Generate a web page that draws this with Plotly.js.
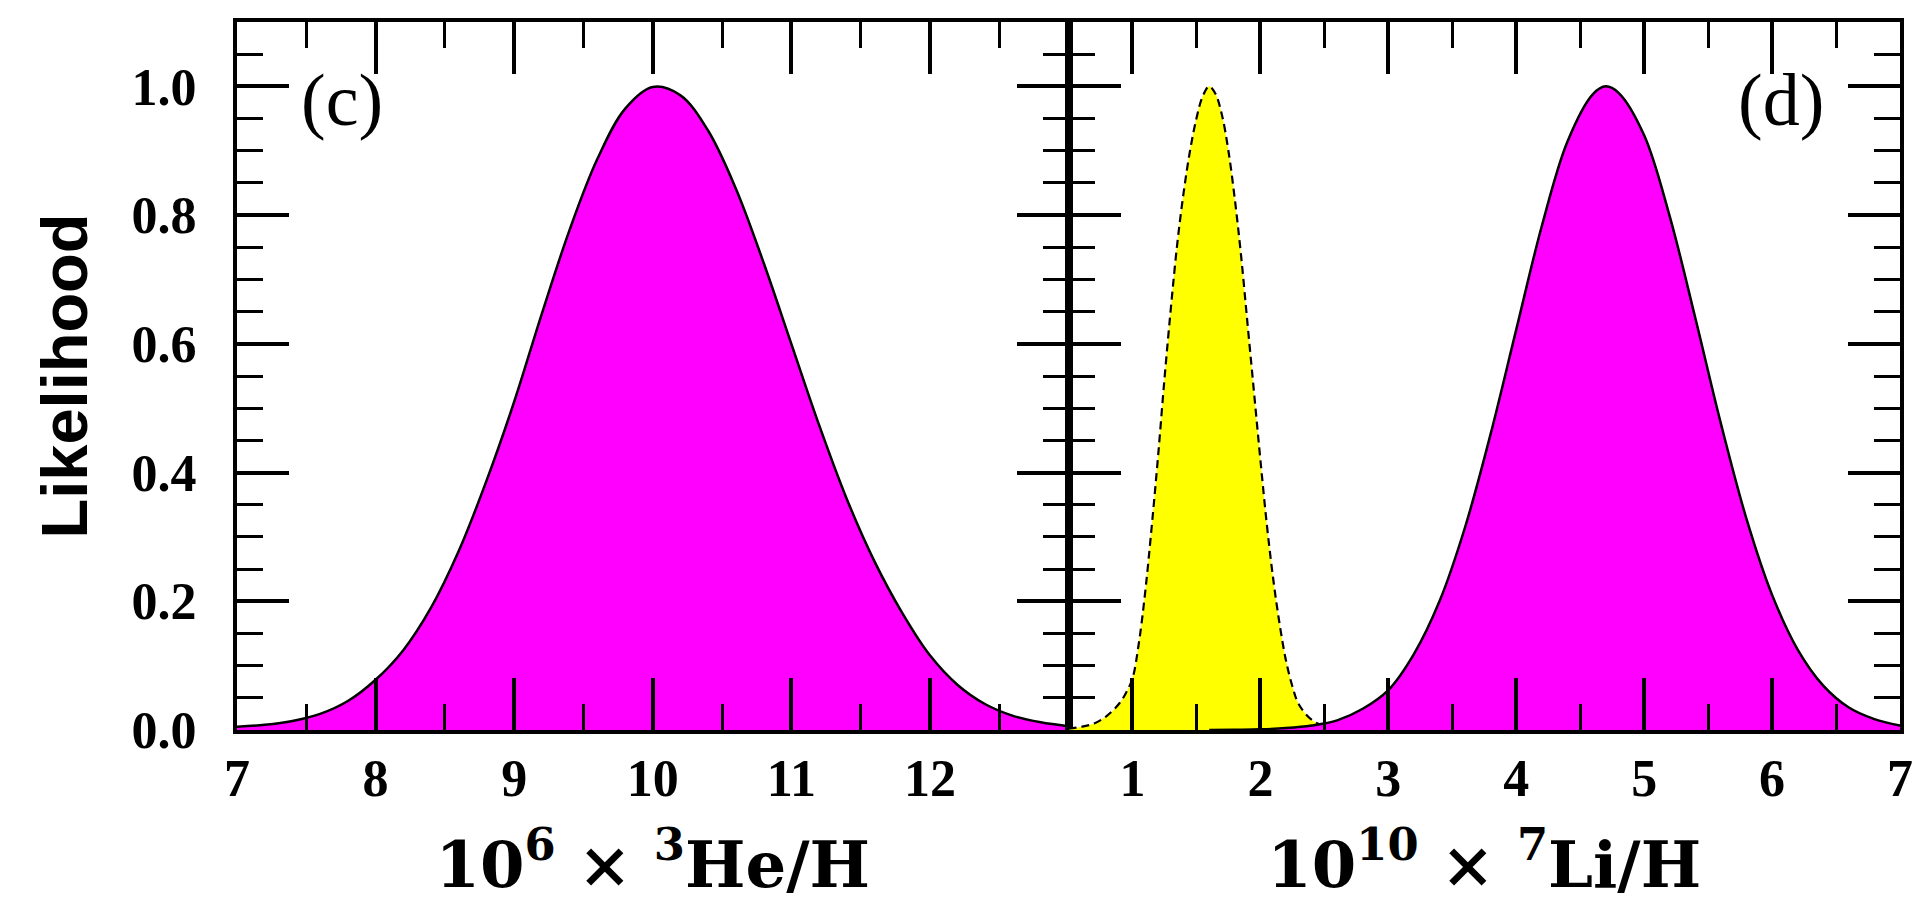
<!DOCTYPE html>
<html>
<head>
<meta charset="utf-8">
<script src="https://cdn.plot.ly/plotly-3.0.1.min.js"></script>
<style>
html, body { margin: 0; padding: 0; background: #ffffff; }
#chart { width: 1926px; height: 902px; }
</style>
</head>
<body>
<div id="chart"></div>
<script>
// ---- Panel (c): 10^6 x 3He/H likelihood ----
const heX = [7.0, 7.2, 7.4, 7.6, 7.8, 8.0, 8.2, 8.4, 8.6, 8.8, 9.0, 9.2, 9.4, 9.6, 9.8, 10.0,
             10.2, 10.4, 10.6, 10.8, 11.0, 11.2, 11.4, 11.6, 11.8, 12.0, 12.2, 12.4, 12.6, 12.8, 13.0];
const heLike = [0.005, 0.008, 0.014, 0.025, 0.045, 0.078, 0.124, 0.190, 0.278, 0.387, 0.510, 0.647, 0.777, 0.887, 0.965, 0.999,
                0.986, 0.931, 0.841, 0.726, 0.600, 0.474, 0.359, 0.262, 0.182, 0.116, 0.070, 0.040, 0.022, 0.012, 0.006];

// ---- Panel (d): 10^10 x 7Li/H, observed (yellow, dashed) ----
const liObsX = [0.5, 0.6, 0.7, 0.8, 0.9, 0.95, 1.0, 1.05, 1.1, 1.15, 1.2, 1.25, 1.3, 1.35, 1.4, 1.45, 1.5, 1.55, 1.6,
                1.65, 1.7, 1.75, 1.8, 1.85, 1.9, 1.95, 2.0, 2.05, 2.1, 2.15, 2.2, 2.25, 2.3, 2.4, 2.5, 2.6, 2.7];
const liObsLike = [0.002, 0.005, 0.010, 0.022, 0.042, 0.058, 0.080, 0.135, 0.215, 0.315, 0.425, 0.545, 0.655, 0.755, 0.835, 0.900, 0.950, 0.985, 1.000,
                   0.988, 0.955, 0.900, 0.825, 0.735, 0.630, 0.525, 0.420, 0.320, 0.235, 0.165, 0.108, 0.068, 0.040, 0.016, 0.006, 0.002, 0.000];

// ---- Panel (d): 10^10 x 7Li/H, predicted (magenta) ----
const liPredX = [1.6, 1.8, 2.0, 2.2, 2.4, 2.6, 2.8, 3.0, 3.2, 3.4, 3.6, 3.8, 4.0, 4.2, 4.4, 4.6, 4.7, 4.8,
                 5.0, 5.2, 5.4, 5.6, 5.8, 6.0, 6.2, 6.4, 6.6, 6.8, 7.0];
const liPredLike = [0.000, 0.0004, 0.001, 0.003, 0.007, 0.015, 0.033, 0.062, 0.118, 0.200, 0.315, 0.460, 0.622, 0.783, 0.914, 0.988, 1.000, 0.990,
                    0.924, 0.798, 0.640, 0.476, 0.328, 0.210, 0.125, 0.069, 0.035, 0.017, 0.007];

// ---- Tick labels ----
const heTickVals = [7, 8, 9, 10, 11, 12];
const heTickText = ['7', '8', '9', '10', '11', '12'];
const liTickVals = [1, 2, 3, 4, 5, 6, 7];
const liTickText = ['1', '2', '3', '4', '5', '6', '7'];
const yTickVals = [0, 0.2, 0.4, 0.6, 0.8, 1.0];
const yTickText = ['0.0', '0.2', '0.4', '0.6', '0.8', '1.0'];

const MAGENTA = '#ff00ff';
const YELLOW = '#ffff00';
const SERIF = '"Liberation Serif", "Times New Roman", serif';
const TITLE_SERIF = '"DejaVu Serif", "Liberation Serif", serif';
const SANS = '"Liberation Sans", Arial, sans-serif';

const traces = [
  {
    x: heX, y: heLike, xaxis: 'x', yaxis: 'y',
    type: 'scatter', mode: 'lines', fill: 'tozeroy', fillcolor: MAGENTA,
    line: {color: '#000000', width: 2.5, shape: 'spline', smoothing: 1},
    hoverinfo: 'skip', showlegend: false
  },
  {
    x: liObsX, y: liObsLike, xaxis: 'x2', yaxis: 'y2',
    type: 'scatter', mode: 'lines', fill: 'tozeroy', fillcolor: YELLOW,
    line: {color: '#000000', width: 2.2, dash: '8px,5px', shape: 'spline', smoothing: 1},
    hoverinfo: 'skip', showlegend: false
  },
  {
    x: liPredX, y: liPredLike, xaxis: 'x2', yaxis: 'y2',
    type: 'scatter', mode: 'lines', fill: 'tozeroy', fillcolor: MAGENTA,
    line: {color: '#000000', width: 2.5, shape: 'spline', smoothing: 1},
    hoverinfo: 'skip', showlegend: false
  }
];

const tickFont = {family: SERIF, size: 52, color: '#000000', weight: 'bold'};
const titleFont = {family: TITLE_SERIF, size: 64, color: '#000000', weight: 'bold'};

function xAxisBase() {
  return {
    showgrid: false, zeroline: false,
    showline: true, linecolor: '#000000', linewidth: 4, mirror: 'ticks',
    ticks: 'inside', ticklen: 52, tickwidth: 4, tickcolor: '#000000',
    tickfont: tickFont, ticklabelstandoff: 0,
    fixedrange: true
  };
}

const layout = {
  width: 1926, height: 902,
  paper_bgcolor: '#ffffff', plot_bgcolor: '#ffffff',
  margin: {l: 237, r: 26, t: 22, b: 172},
  showlegend: false,
  xaxis: Object.assign(xAxisBase(), {
    domain: [0, 0.5], anchor: 'y', range: [7, 13],
    tickmode: 'array', tickvals: heTickVals, ticktext: heTickText,
    minor: {tickmode: 'linear', tick0: 7, dtick: 0.5, ticks: 'inside', ticklen: 26, tickwidth: 3, tickcolor: '#000000', showgrid: false},
    title: {text: '10<sup>6</sup> × <sup>3</sup>He/H', font: titleFont, standoff: 40}
  }),
  xaxis2: Object.assign(xAxisBase(), {
    domain: [0.5, 1], anchor: 'y2', range: [0.5, 7],
    tickmode: 'array', tickvals: liTickVals, ticktext: liTickText,
    minor: {tickmode: 'linear', tick0: 0.5, dtick: 0.5, ticks: 'inside', ticklen: 26, tickwidth: 3, tickcolor: '#000000', showgrid: false},
    title: {text: '10<sup>10</sup> × <sup>7</sup>Li/H', font: titleFont, standoff: 40}
  }),
  yaxis: {
    domain: [0, 1], anchor: 'x', range: [0, 1.1],
    showgrid: false, zeroline: false,
    showline: true, linecolor: '#000000', linewidth: 4, mirror: 'ticks',
    ticks: 'inside', ticklen: 52, tickwidth: 4, tickcolor: '#000000',
    tickmode: 'array', tickvals: yTickVals, ticktext: yTickText,
    minor: {tickmode: 'linear', tick0: 0, dtick: 0.05, ticks: 'inside', ticklen: 26, tickwidth: 3, tickcolor: '#000000', showgrid: false},
    tickfont: tickFont, ticklabelstandoff: 26,
    title: {text: 'Likelihood', font: {family: SANS, size: 65, color: '#000000', weight: 'bold'}, standoff: 24},
    fixedrange: true
  },
  yaxis2: {
    domain: [0, 1], anchor: 'x2', matches: 'y', range: [0, 1.1],
    showgrid: false, zeroline: false,
    showline: true, linecolor: '#000000', linewidth: 4, mirror: 'ticks',
    ticks: 'inside', ticklen: 52, tickwidth: 4, tickcolor: '#000000',
    tickmode: 'array', tickvals: yTickVals, showticklabels: false,
    minor: {tickmode: 'linear', tick0: 0, dtick: 0.05, ticks: 'inside', ticklen: 26, tickwidth: 3, tickcolor: '#000000', showgrid: false},
    fixedrange: true
  },
  annotations: [
    {text: '(c)', xref: 'x', yref: 'y', x: 7.76, y: 0.979, showarrow: false,
     xanchor: 'center', yanchor: 'middle', font: {family: SERIF, size: 74, color: '#000000'}},
    {text: '(d)', xref: 'x2', yref: 'y2', x: 6.07, y: 0.979, showarrow: false,
     xanchor: 'center', yanchor: 'middle', font: {family: SERIF, size: 74, color: '#000000'}}
  ]
};

Plotly.newPlot('chart', traces, layout, {displayModeBar: false, staticPlot: true});
</script>
</body>
</html>
